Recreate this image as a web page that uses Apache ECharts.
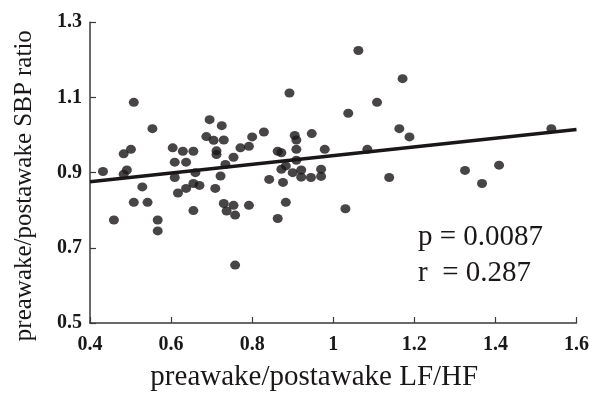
<!DOCTYPE html>
<html>
<head>
<meta charset="utf-8">
<script src="https://cdn.jsdelivr.net/npm/echarts@6/dist/echarts.min.js"></script>
<style>
html,body{margin:0;padding:0;background:#fff;}
#chart{width:592px;height:397px;}
</style>
</head>
<body>
<div id="chart"></div>
<script>
// LF/HF ratio (x) and SBP ratio (y)
const lfhf = [
  0.432, 0.459, 0.483, 0.501, 0.483, 0.491, 0.508, 0.554, 0.508, 0.529,
  0.542, 0.567, 0.567, 0.604, 0.629, 0.655, 0.609, 0.637, 0.609, 0.617,
  0.637, 0.655, 0.670, 0.660, 0.655, 0.695, 0.725, 0.687, 0.705, 0.730,
  0.712, 0.712, 0.754, 0.771, 0.792, 0.800, 0.829, 0.734, 0.722, 0.709,
  0.730, 0.754, 0.737, 0.758, 0.792, 0.758, 0.892, 0.905, 0.909, 0.909,
  0.863, 0.872, 0.909, 0.872, 0.883, 0.842, 0.876, 0.883, 0.863, 0.900,
  0.921, 0.921, 0.945, 0.947, 0.979, 0.970, 0.970, 1.062, 1.171, 1.108,
  1.037, 1.163, 1.188, 1.084, 1.138, 1.030, 1.325, 1.367, 1.409, 1.538
];
const sbp = [
  0.903, 0.774, 0.950, 0.962, 0.896, 0.907, 1.087, 1.017, 0.821, 0.862,
  0.821, 0.774, 0.745, 0.966, 0.957, 0.957, 0.928, 0.928, 0.887, 0.846,
  0.858, 0.871, 0.866, 0.900, 0.799, 1.041, 1.025, 0.996, 0.986, 0.987,
  0.958, 0.948, 0.941, 0.966, 0.970, 0.995, 1.008, 0.922, 0.891, 0.858,
  0.818, 0.813, 0.798, 0.787, 0.813, 0.654, 1.112, 0.999, 0.987, 0.962,
  0.957, 0.953, 0.933, 0.909, 0.918, 0.882, 0.874, 0.821, 0.778, 0.900,
  0.907, 0.888, 0.887, 1.004, 0.962, 0.909, 0.890, 1.225, 1.150, 1.087,
  1.058, 1.017, 0.995, 0.962, 0.887, 0.804, 0.906, 0.871, 0.920, 1.017
];
// regression line end points
const fitX = [0.4, 1.6];
const fitY = [0.876, 1.015];
// axis ticks
const xTicks = [0.4, 0.6, 0.8, 1.0, 1.2, 1.4, 1.6];
const yTicks = [0.5, 0.7, 0.9, 1.1, 1.3];
const statsText = ['p = 0.0087', 'r  = 0.287'];

const points = lfhf.map((x, i) => [x, sbp[i]]);
const fitLine = fitX.map((x, i) => [x, fitY[i]]);

const serif = '"Liberation Serif", "Times New Roman", serif';
const ink = '#1a1718';
const axisColor = '#3a3a3a';

const chart = echarts.init(document.getElementById('chart'), null, {renderer: 'canvas'});
chart.setOption({
  backgroundColor: '#ffffff',
  animation: false,
  grid: {left: 90, right: 10.5, top: 22.3, bottom: 72.7, containLabel: false},
  xAxis: {
    type: 'value',
    min: xTicks[0], max: xTicks[xTicks.length - 1], interval: 0.2,
    name: 'preawake/postawake LF/HF',
    nameLocation: 'middle', nameGap: 40,
    nameTextStyle: {fontFamily: serif, fontSize: 29, color: ink, padding: [0, 38, 0, 0]},
    axisLine: {lineStyle: {color: axisColor, width: 1.5}},
    axisTick: {inside: true, length: 6, lineStyle: {color: axisColor, width: 1.2}},
    axisLabel: {
      fontFamily: serif, fontWeight: 'bold', fontSize: 20, color: ink, margin: 12,
      formatter: v => String(+v.toFixed(1))
    },
    splitLine: {show: false}
  },
  yAxis: {
    type: 'value',
    min: yTicks[0], max: yTicks[yTicks.length - 1], interval: 0.2,
    name: 'preawake/postawake SBP ratio',
    nameLocation: 'middle', nameGap: 53,
    nameTextStyle: {fontFamily: serif, fontSize: 25, color: ink, padding: [0, 26, 0, 0]},
    axisLine: {lineStyle: {color: axisColor, width: 1.5}},
    axisTick: {inside: true, length: 6, lineStyle: {color: axisColor, width: 1.2}},
    axisLabel: {
      fontFamily: serif, fontWeight: 'bold', fontSize: 20, color: ink, margin: 8,
      formatter: v => v.toFixed(1)
    },
    splitLine: {show: false}
  },
  graphic: statsText.map((t, i) => ({
    type: 'text', left: 418, top: 223 + i * 36,
    style: {text: t, fontFamily: serif, fontSize: 29, fill: ink}
  })),
  series: [
    {
      type: 'scatter', data: points, symbol: 'circle', symbolSize: [10, 9],
      itemStyle: {color: ink}, z: 3
    },
    {
      type: 'line', data: fitLine, symbol: 'none',
      lineStyle: {color: ink, width: 3.5}, z: 2
    }
  ]
});
</script>
</body>
</html>
